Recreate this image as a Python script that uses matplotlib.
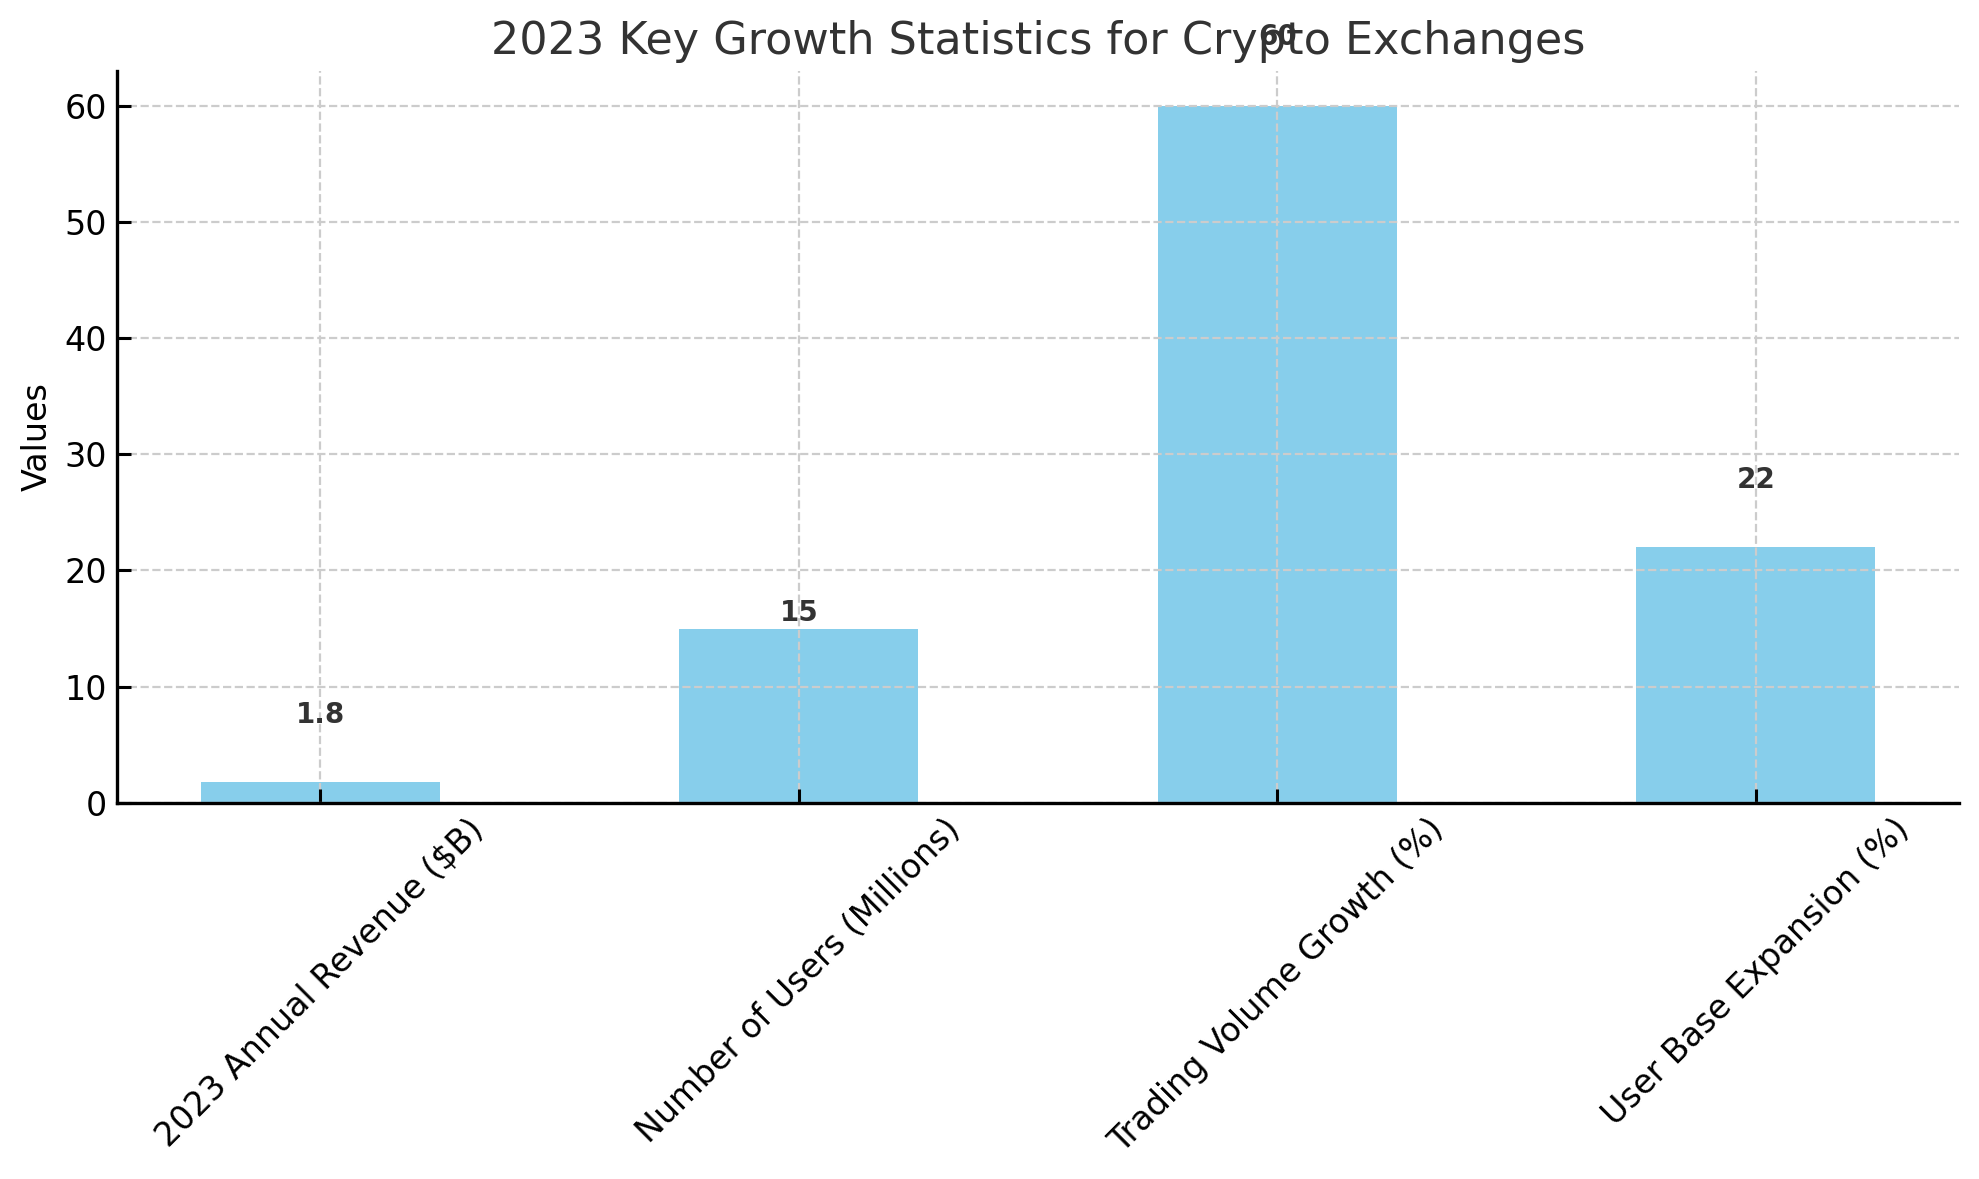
import matplotlib
matplotlib.use("Agg")
from matplotlib import pyplot as plt

categories = ['2023 Annual Revenue ($B)', 'Number of Users (Millions)',
              'Trading Volume Growth (%)', 'User Base Expansion (%)']
values = [1.8, 15, 60, 22]
value_labels = ['1.8', '15', '60', '22']

# label placement above each bar (as drawn in the original)
label_offsets = [5.8, 1.3, 5.9, 5.8]

fig, ax = plt.subplots(figsize=(9.895, 5.895), dpi=200)
fig.subplots_adjust(left=0.0591, right=0.990, bottom=0.319, top=0.940)

ax.bar(categories, values, width=0.5, color='skyblue', zorder=2)

for i, (v, lab) in enumerate(zip(values, value_labels)):
    ax.text(i, v + label_offsets[i], lab, ha='center', va='center',
            fontsize=10, fontweight='bold', color='#333333', zorder=3)

ax.set_title('2023 Key Growth Statistics for Crypto Exchanges', fontsize=16, color='#333333')
ax.set_ylabel('Values', fontsize=12)
ax.set_ylim(0, 63)

ax.tick_params(axis='both', direction='in', labelsize=12, length=5, width=1.1)
plt.setp(ax.get_xticklabels(), rotation=45)

for s in ['top', 'right']:
    ax.spines[s].set_visible(False)
for s in ['left', 'bottom']:
    ax.spines[s].set_linewidth(1.2)
    ax.spines[s].set_zorder(4)

ax.grid(True, linestyle='--', color='#cccccc', linewidth=0.8, zorder=0)
ax.set_axisbelow(False)

fig.savefig('out.png', dpi=200)
